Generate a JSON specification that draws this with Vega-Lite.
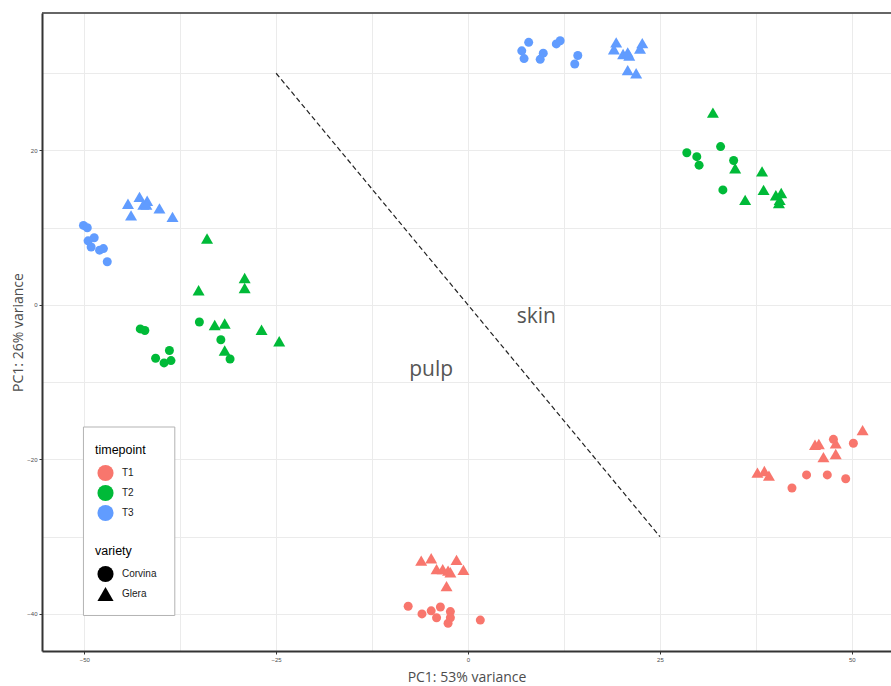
{
  "$schema": "https://vega.github.io/schema/vega-lite/v6.json",
  "width": 849,
  "height": 638,
  "autosize": {"type": "none"},
  "padding": {"left": 42, "top": 13, "right": 0, "bottom": 35},
  "background": "white",
  "config": {
    "view": {"stroke": null},
    "axis": {
      "gridColor": "#EBEBEB",
      "gridWidth": 1,
      "domainColor": "#333333",
      "domainWidth": 2,
      "tickColor": "#333333",
      "tickSize": 3,
      "labelFontSize": 6,
      "labelColor": "#4D4D4D",
      "labelPadding": 2,
      "labelFont": "Liberation Sans",
      "titleFont": "Open Sans",
      "titleFontSize": 14,
      "titleFontWeight": "normal",
      "titleColor": "#4D4D4D"
    },
    "legend": {
      "orient": "none",
      "padding": 0,
      "titleFont": "Liberation Sans",
      "titleFontSize": 12.5,
      "titleFontWeight": "normal",
      "titleColor": "#000000",
      "titlePadding": 8,
      "labelFont": "Liberation Sans",
      "labelFontSize": 10,
      "labelColor": "#1A1A1A",
      "labelOffset": 8,
      "rowPadding": 3,
      "symbolOffset": 2,
      "symbolStrokeWidth": 0,
      "symbolOpacity": 1
    }
  },
  "datasets": {
    "samples": [
      {"pc1": -50.1, "pc2": 10.3, "timepoint": "T3", "variety": "Corvina"},
      {"pc1": -49.6, "pc2": 10.0, "timepoint": "T3", "variety": "Corvina"},
      {"pc1": -48.7, "pc2": 8.7, "timepoint": "T3", "variety": "Corvina"},
      {"pc1": -49.5, "pc2": 8.3, "timepoint": "T3", "variety": "Corvina"},
      {"pc1": -49.1, "pc2": 7.5, "timepoint": "T3", "variety": "Corvina"},
      {"pc1": -48.0, "pc2": 7.1, "timepoint": "T3", "variety": "Corvina"},
      {"pc1": -47.5, "pc2": 7.3, "timepoint": "T3", "variety": "Corvina"},
      {"pc1": -47.0, "pc2": 5.6, "timepoint": "T3", "variety": "Corvina"},
      {"pc1": -44.3, "pc2": 13.1, "timepoint": "T3", "variety": "Glera"},
      {"pc1": -42.8, "pc2": 14.0, "timepoint": "T3", "variety": "Glera"},
      {"pc1": -43.9, "pc2": 11.6, "timepoint": "T3", "variety": "Glera"},
      {"pc1": -41.8, "pc2": 13.5, "timepoint": "T3", "variety": "Glera"},
      {"pc1": -42.3, "pc2": 13.0, "timepoint": "T3", "variety": "Glera"},
      {"pc1": -41.9, "pc2": 13.0, "timepoint": "T3", "variety": "Glera"},
      {"pc1": -40.2, "pc2": 12.5, "timepoint": "T3", "variety": "Glera"},
      {"pc1": -38.5, "pc2": 11.4, "timepoint": "T3", "variety": "Glera"},
      {"pc1": 7.9, "pc2": 34.0, "timepoint": "T3", "variety": "Corvina"},
      {"pc1": 7.0, "pc2": 32.9, "timepoint": "T3", "variety": "Corvina"},
      {"pc1": 7.3, "pc2": 31.9, "timepoint": "T3", "variety": "Corvina"},
      {"pc1": 9.8, "pc2": 32.6, "timepoint": "T3", "variety": "Corvina"},
      {"pc1": 9.4, "pc2": 31.8, "timepoint": "T3", "variety": "Corvina"},
      {"pc1": 11.5, "pc2": 33.8, "timepoint": "T3", "variety": "Corvina"},
      {"pc1": 12.0, "pc2": 34.2, "timepoint": "T3", "variety": "Corvina"},
      {"pc1": 14.3, "pc2": 32.3, "timepoint": "T3", "variety": "Corvina"},
      {"pc1": 13.9, "pc2": 31.2, "timepoint": "T3", "variety": "Corvina"},
      {"pc1": 19.3, "pc2": 34.0, "timepoint": "T3", "variety": "Glera"},
      {"pc1": 19.0, "pc2": 33.1, "timepoint": "T3", "variety": "Glera"},
      {"pc1": 20.2, "pc2": 32.5, "timepoint": "T3", "variety": "Glera"},
      {"pc1": 20.8, "pc2": 32.7, "timepoint": "T3", "variety": "Glera"},
      {"pc1": 21.0, "pc2": 32.3, "timepoint": "T3", "variety": "Glera"},
      {"pc1": 22.7, "pc2": 33.9, "timepoint": "T3", "variety": "Glera"},
      {"pc1": 22.4, "pc2": 33.2, "timepoint": "T3", "variety": "Glera"},
      {"pc1": 20.8, "pc2": 30.4, "timepoint": "T3", "variety": "Glera"},
      {"pc1": 21.9, "pc2": 30.0, "timepoint": "T3", "variety": "Glera"},
      {"pc1": 28.5, "pc2": 19.7, "timepoint": "T2", "variety": "Corvina"},
      {"pc1": 29.8, "pc2": 19.2, "timepoint": "T2", "variety": "Corvina"},
      {"pc1": 30.1, "pc2": 18.1, "timepoint": "T2", "variety": "Corvina"},
      {"pc1": 32.9, "pc2": 20.5, "timepoint": "T2", "variety": "Corvina"},
      {"pc1": 34.6, "pc2": 18.7, "timepoint": "T2", "variety": "Corvina"},
      {"pc1": 33.2, "pc2": 14.9, "timepoint": "T2", "variety": "Corvina"},
      {"pc1": 31.9, "pc2": 24.9, "timepoint": "T2", "variety": "Glera"},
      {"pc1": 34.8, "pc2": 17.7, "timepoint": "T2", "variety": "Glera"},
      {"pc1": 38.3, "pc2": 17.3, "timepoint": "T2", "variety": "Glera"},
      {"pc1": 38.5, "pc2": 14.9, "timepoint": "T2", "variety": "Glera"},
      {"pc1": 36.1, "pc2": 13.6, "timepoint": "T2", "variety": "Glera"},
      {"pc1": 40.1, "pc2": 14.2, "timepoint": "T2", "variety": "Glera"},
      {"pc1": 40.8, "pc2": 14.5, "timepoint": "T2", "variety": "Glera"},
      {"pc1": 40.5, "pc2": 13.2, "timepoint": "T2", "variety": "Glera"},
      {"pc1": 40.6, "pc2": 13.6, "timepoint": "T2", "variety": "Glera"},
      {"pc1": -42.7, "pc2": -3.1, "timepoint": "T2", "variety": "Corvina"},
      {"pc1": -42.1, "pc2": -3.3, "timepoint": "T2", "variety": "Corvina"},
      {"pc1": -35.0, "pc2": -2.2, "timepoint": "T2", "variety": "Corvina"},
      {"pc1": -32.2, "pc2": -4.5, "timepoint": "T2", "variety": "Corvina"},
      {"pc1": -31.0, "pc2": -7.0, "timepoint": "T2", "variety": "Corvina"},
      {"pc1": -40.7, "pc2": -6.9, "timepoint": "T2", "variety": "Corvina"},
      {"pc1": -39.6, "pc2": -7.5, "timepoint": "T2", "variety": "Corvina"},
      {"pc1": -38.9, "pc2": -5.9, "timepoint": "T2", "variety": "Corvina"},
      {"pc1": -38.7, "pc2": -7.2, "timepoint": "T2", "variety": "Corvina"},
      {"pc1": -34.0, "pc2": 8.6, "timepoint": "T2", "variety": "Glera"},
      {"pc1": -29.1, "pc2": 3.5, "timepoint": "T2", "variety": "Glera"},
      {"pc1": -29.1, "pc2": 2.2, "timepoint": "T2", "variety": "Glera"},
      {"pc1": -35.1, "pc2": 1.9, "timepoint": "T2", "variety": "Glera"},
      {"pc1": -33.0, "pc2": -2.6, "timepoint": "T2", "variety": "Glera"},
      {"pc1": -31.7, "pc2": -2.4, "timepoint": "T2", "variety": "Glera"},
      {"pc1": -26.9, "pc2": -3.2, "timepoint": "T2", "variety": "Glera"},
      {"pc1": -24.6, "pc2": -4.7, "timepoint": "T2", "variety": "Glera"},
      {"pc1": -31.7, "pc2": -5.9, "timepoint": "T2", "variety": "Glera"},
      {"pc1": -6.1, "pc2": -33.1, "timepoint": "T1", "variety": "Glera"},
      {"pc1": -4.8, "pc2": -32.8, "timepoint": "T1", "variety": "Glera"},
      {"pc1": -1.5, "pc2": -33.0, "timepoint": "T1", "variety": "Glera"},
      {"pc1": -4.1, "pc2": -34.2, "timepoint": "T1", "variety": "Glera"},
      {"pc1": -3.3, "pc2": -34.2, "timepoint": "T1", "variety": "Glera"},
      {"pc1": -2.6, "pc2": -34.4, "timepoint": "T1", "variety": "Glera"},
      {"pc1": -2.3, "pc2": -34.6, "timepoint": "T1", "variety": "Glera"},
      {"pc1": -0.6, "pc2": -34.3, "timepoint": "T1", "variety": "Glera"},
      {"pc1": -2.8, "pc2": -36.4, "timepoint": "T1", "variety": "Glera"},
      {"pc1": -7.8, "pc2": -39.0, "timepoint": "T1", "variety": "Corvina"},
      {"pc1": -6.0, "pc2": -40.0, "timepoint": "T1", "variety": "Corvina"},
      {"pc1": -4.8, "pc2": -39.6, "timepoint": "T1", "variety": "Corvina"},
      {"pc1": -3.6, "pc2": -39.1, "timepoint": "T1", "variety": "Corvina"},
      {"pc1": -4.1, "pc2": -40.5, "timepoint": "T1", "variety": "Corvina"},
      {"pc1": -2.3, "pc2": -39.7, "timepoint": "T1", "variety": "Corvina"},
      {"pc1": -2.3, "pc2": -40.5, "timepoint": "T1", "variety": "Corvina"},
      {"pc1": -2.6, "pc2": -41.2, "timepoint": "T1", "variety": "Corvina"},
      {"pc1": 1.6, "pc2": -40.8, "timepoint": "T1", "variety": "Corvina"},
      {"pc1": 51.4, "pc2": -16.2, "timepoint": "T1", "variety": "Glera"},
      {"pc1": 45.2, "pc2": -18.1, "timepoint": "T1", "variety": "Glera"},
      {"pc1": 45.7, "pc2": -18.0, "timepoint": "T1", "variety": "Glera"},
      {"pc1": 47.9, "pc2": -17.9, "timepoint": "T1", "variety": "Glera"},
      {"pc1": 46.3, "pc2": -19.7, "timepoint": "T1", "variety": "Glera"},
      {"pc1": 47.9, "pc2": -19.3, "timepoint": "T1", "variety": "Glera"},
      {"pc1": 37.7, "pc2": -21.7, "timepoint": "T1", "variety": "Glera"},
      {"pc1": 38.6, "pc2": -21.5, "timepoint": "T1", "variety": "Glera"},
      {"pc1": 39.2, "pc2": -22.1, "timepoint": "T1", "variety": "Glera"},
      {"pc1": 47.6, "pc2": -17.4, "timepoint": "T1", "variety": "Corvina"},
      {"pc1": 50.2, "pc2": -17.9, "timepoint": "T1", "variety": "Corvina"},
      {"pc1": 44.1, "pc2": -22.0, "timepoint": "T1", "variety": "Corvina"},
      {"pc1": 46.8, "pc2": -22.0, "timepoint": "T1", "variety": "Corvina"},
      {"pc1": 49.2, "pc2": -22.5, "timepoint": "T1", "variety": "Corvina"},
      {"pc1": 42.2, "pc2": -23.7, "timepoint": "T1", "variety": "Corvina"}
    ],
    "divider": [
      {"pc1": -25, "pc2": 30},
      {"pc1": 25, "pc2": -30}
    ],
    "tissues": [
      {"pc1": 8.9, "pc2": -1.6, "label": "skin"},
      {"pc1": -4.8, "pc2": -8.4, "label": "pulp"}
    ]
  },
  "layer": [
    {
      "data": {"name": "samples"},
      "transform": [{"filter": "datum.variety === 'Corvina'"}],
      "mark": {"type": "point", "filled": true, "opacity": 1, "strokeWidth": 0, "size": 81},
      "encoding": {
        "x": {
          "field": "pc1",
          "type": "quantitative",
          "scale": {"domain": [-55.5, 55.1], "nice": false, "zero": false},
          "axis": {
            "title": "PC1: 53% variance",
            "values": [-50, -37.5, -25, -12.5, 0, 12.5, 25, 37.5, 50],
            "labelExpr": "datum.value % 25 === 0 ? format(datum.value, 'd') : ''",
            "tickOpacity": {"condition": {"test": "datum.value % 25 !== 0", "value": 0}, "value": 1},
            "titlePadding": 8
          }
        },
        "y": {
          "field": "pc2",
          "type": "quantitative",
          "scale": {"domain": [-44.8, 37.8], "nice": false, "zero": false},
          "axis": {
            "title": "PC1: 26% variance",
            "values": [-40, -30, -20, -10, 0, 10, 20, 30],
            "labelExpr": "datum.value % 20 === 0 ? format(datum.value, 'd') : ''",
            "tickOpacity": {"condition": {"test": "datum.value % 20 !== 0", "value": 0}, "value": 1},
            "titlePadding": 1
          }
        },
        "color": {
          "field": "timepoint",
          "type": "nominal",
          "scale": {"domain": ["T1", "T2", "T3"], "range": ["#F8766D", "#00BA38", "#619CFF"]},
          "legend": {
            "title": "timepoint",
            "legendX": 53,
            "legendY": 431,
            "symbolType": "circle",
            "symbolSize": 260
          }
        },
        "shape": {
          "field": "variety",
          "type": "nominal",
          "scale": {"domain": ["Corvina", "Glera"], "range": ["circle", "triangle-up"]},
          "legend": {
            "title": "variety",
            "legendX": 53,
            "legendY": 532,
            "symbolSize": 260,
            "symbolFillColor": "#000000",
            "rowPadding": 3
          }
        }
      }
    },
    {
      "data": {"name": "samples"},
      "transform": [{"filter": "datum.variety === 'Glera'"}],
      "mark": {"type": "point", "filled": true, "opacity": 1, "strokeWidth": 0, "size": 144},
      "encoding": {
        "x": {"field": "pc1", "type": "quantitative", "scale": {"domain": [-55.5, 55.1], "nice": false, "zero": false}},
        "y": {"field": "pc2", "type": "quantitative", "scale": {"domain": [-44.8, 37.8], "nice": false, "zero": false}},
        "color": {
          "field": "timepoint",
          "type": "nominal",
          "scale": {"domain": ["T1", "T2", "T3"], "range": ["#F8766D", "#00BA38", "#619CFF"]}
        },
        "shape": {
          "field": "variety",
          "type": "nominal",
          "scale": {"domain": ["Corvina", "Glera"], "range": ["circle", "triangle-up"]}
        }
      }
    },
    {
      "data": {"values": [{}]},
      "mark": {"type": "rect", "fill": "white", "stroke": "#B3B3B3", "strokeWidth": 1},
      "encoding": {
        "x": {"datum": -50.1, "type": "quantitative", "scale": {"domain": [-55.5, 55.1], "nice": false, "zero": false}},
        "x2": {"datum": -38.2},
        "y": {"datum": -15.8, "type": "quantitative", "scale": {"domain": [-44.8, 37.8], "nice": false, "zero": false}},
        "y2": {"datum": -40.2}
      }
    },
    {
      "data": {"values": [{}]},
      "mark": {"type": "rule", "color": "#333333", "strokeWidth": 1.5},
      "encoding": {
        "x": {"datum": -55.5, "type": "quantitative", "scale": {"domain": [-55.5, 55.1], "nice": false, "zero": false}},
        "x2": {"datum": 55.1},
        "y": {"datum": 37.8, "type": "quantitative", "scale": {"domain": [-44.8, 37.8], "nice": false, "zero": false}}
      }
    },
    {
      "data": {"name": "divider"},
      "mark": {"type": "line", "color": "#222222", "strokeWidth": 1.2, "strokeDash": [5, 3]},
      "encoding": {
        "x": {"field": "pc1", "type": "quantitative", "scale": {"domain": [-55.5, 55.1], "nice": false, "zero": false}},
        "y": {"field": "pc2", "type": "quantitative", "scale": {"domain": [-44.8, 37.8], "nice": false, "zero": false}}
      }
    },
    {
      "data": {"name": "tissues"},
      "mark": {"type": "text", "font": "Open Sans", "fontSize": 21, "color": "#555555", "align": "center", "baseline": "middle"},
      "encoding": {
        "x": {"field": "pc1", "type": "quantitative", "scale": {"domain": [-55.5, 55.1], "nice": false, "zero": false}},
        "y": {"field": "pc2", "type": "quantitative", "scale": {"domain": [-44.8, 37.8], "nice": false, "zero": false}},
        "text": {"field": "label"}
      }
    }
  ]
}
